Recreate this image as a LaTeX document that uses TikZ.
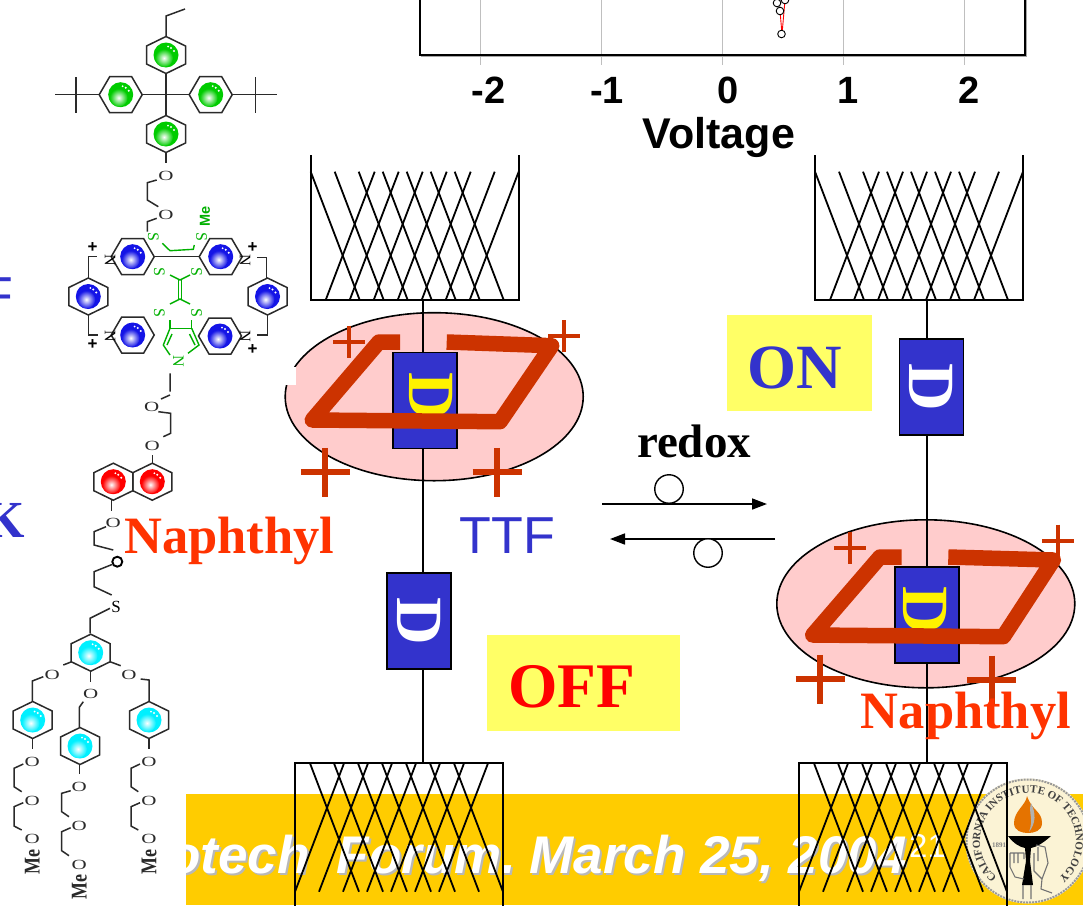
\documentclass[tikz,border=0pt]{standalone}
\usepackage{fontspec}
\setmainfont{Liberation Serif}
\newfontfamily\arialf{Liberation Sans}
\usetikzlibrary{arrows.meta,decorations.text,calc,shapes.geometric}
\definecolor{dblue}{HTML}{3333CC}
\definecolor{brick}{HTML}{CC3300}
\definecolor{pinkfill}{HTML}{FFCCCC}
\definecolor{barcol}{HTML}{FFCC00}
\definecolor{noteyel}{HTML}{FFFF66}
\definecolor{naphcol}{HTML}{FF3300}
\definecolor{molgreen}{HTML}{00B000}
\definecolor{ballblue}{HTML}{1414E6}
\definecolor{ballgreen}{HTML}{00CC00}
\definecolor{ballred}{HTML}{FF0000}
\definecolor{ballcyan}{HTML}{00F0FF}
\definecolor{sealcream}{HTML}{FBF3D5}
\definecolor{molblack}{HTML}{2A2A2A}
\newcommand{\szfont}[1]{\fontsize{#1}{#1}\selectfont}
\newcommand{\sealfont}{\fontsize{11}{11}\selectfont\bfseries}
\newcounter{atomc}
% molecule helpers
\newcommand{\mball}[3]{%
  \fill[#3] (#1,#2) circle (12.5);
  \shade[inner color=white,outer color=#3] (#1-2,#2+3) circle (9);
  \fill[white] (#1+5,#2-7) circle (1.1) (#1+8,#2-4) circle (1.1) (#1+2,#2-8.5) circle (1);
}
\newcommand{\ringP}[3]{%
  \draw[bond] (#1,#2-18.5) -- (#1+19.5,#2-9) -- (#1+19.5,#2+9) -- (#1,#2+18.5) -- (#1-19.5,#2+9) -- (#1-19.5,#2-9) -- cycle;
  \mball{#1}{#2}{#3}
}
\newcommand{\ringF}[3]{%
  \draw[bond] (#1-21.5,#2) -- (#1-11,#2-18) -- (#1+11,#2-18) -- (#1+21.5,#2) -- (#1+11,#2+18) -- (#1-11,#2+18) -- cycle;
  \mball{#1}{#2}{#3}
}
\newcommand{\Ox}[2]{\stepcounter{atomc}\node[oxatom] (atom\theatomc) at (#1,#2) {O};}
\newcommand{\Sy}[3][black]{\stepcounter{atomc}\node[atomtxt,text=#1,rotate=-90] (atom\theatomc) at (#2,#3) {S};}
\newcommand{\Ni}[3][black]{\stepcounter{atomc}\node[atomtxt,text=#1,rotate=-90] (atom\theatomc) at (#2,#3) {N};}
\newcommand{\Pl}[2]{\stepcounter{atomc}\node[plusatom] (atom\theatomc) at (#1,#2) {+};}
\newcommand{\MeL}[2]{\stepcounter{atomc}\node[meatom] (atom\theatomc) at (#1,#2) {Me};}
% device helpers
\newcommand{\plusmark}[4]{\draw[brick,line width=#4] (#1-#3,#2) -- (#1+#3,#2) (#1,#2-#3) -- (#1,#2+#3);}
\newcommand{\electrode}[4]{% left x, closed-edge y, wire-end y, side-end y
  \draw[wireline] (#1,#4) -- (#1,#2) -- (#1+208,#2) -- (#1+208,#4);
  \foreach \i in {0,...,6} {
    \draw[wireline] (#1+\i*24,#3) -- (#1+\i*24+49,#2);
    \draw[wireline] (#1+208-\i*24,#3) -- (#1+208-\i*24-49,#2);
  }
}
\tikzset{
  bond/.style={draw=molblack,line width=1.5pt},
  gbond/.style={draw=molgreen,line width=1.4pt},
  atomtxt/.style={inner sep=0pt,font=\szfont{16}},
  oxatom/.style={inner sep=0pt,font=\szfont{14},xscale=1.5,text=molblack},
  plusatom/.style={inner sep=0pt,font=\arialf\bfseries\szfont{17},text=black},
  meatom/.style={inner sep=0pt,font=\szfont{18}\bfseries,rotate=90,yscale=1.25,text=molblack},
  wireline/.style={draw=black,line width=1.8pt},
  dbox/.style={draw=black,line width=1.6pt,fill=dblue,minimum width=64pt,minimum height=96pt,inner sep=0pt},
  dletter/.style={inner sep=0pt,font=\szfont{66}\bfseries,rotate=-90},
  notebox/.style={fill=noteyel,inner sep=0pt},
  cellipse/.style={ellipse,draw=black,line width=1.6pt,fill=pinkfill,inner sep=0pt,minimum width=298pt,minimum height=168pt},
  parallel/.style={draw=brick,line width=15.5pt,line join=round},
  naphlabel/.style={inner sep=0pt,anchor=base,text=naphcol,font=\szfont{52.5}\bfseries},
  rxarrow/.style={draw=black,line width=1.6pt,-{Triangle[length=15pt,width=11pt]}},
  rxcircle/.style={draw=black,line width=1.4pt,fill=white,circle,inner sep=0pt,minimum size=28.5pt},
  ticklabel/.style={inner sep=0pt,anchor=base,font=\arialf\bfseries\szfont{38}},
  gridl/.style={draw=black!25,line width=0.9pt},
  datapt/.style={draw=black,fill=white,line width=0.9pt},
  footfont/.style={inner sep=0pt,anchor=base west,font=\arialf\bfseries\itshape\szfont{53}}
}
\begin{document}
\begin{tikzpicture}[x=1pt,y=-1pt]
\useasboundingbox (0,0) rectangle (1083,905);
\clip (0,0) rectangle (1083,905);
\fill[white] (0,0) rectangle (1083,905);

% footer bar
\fill[barcol] (186,794) rectangle (1083,905);
\begin{scope}
  \clip (186,794) rectangle (1083,905);
  \node[footfont,text=black!28] (footshadow) at (170,875) {otech\hspace{12.5pt} Forum.\hspace{-6.5pt} March 25, 2004};
  \node[footfont,text=white] (foot) at (168,873) {otech\hspace{12.5pt} Forum.\hspace{-6.5pt} March 25, 2004};
\end{scope}
\node[inner sep=0pt,anchor=base west,text=white,font=\arialf\szfont{33}] (pagenum) at (909,857) {21};

% Caltech seal
\begin{scope}[shift={(1028,841)},y=1pt]
  \fill[sealcream] (0,0) circle (62.5);
  \draw[black!40,line width=2pt,densely dotted] (0,0) circle (61.5);
  \path[decorate,decoration={text along path,text align=center,text color=black!75,
    text={|\sealfont|CALIFORNIA INSTITUTE OF TECHNOLOGY}}]
    (240:48) arc (240:-60:48);
  % flame
  \fill[orange!90!black] (-1,45) .. controls (-2,36) and (-14,30) .. (-14,18)
     .. controls (-14,10) and (-6,8) .. (0,8) .. controls (6,8) and (14,10) .. (14,18)
     .. controls (14,30) and (4,30) .. (-1,45) -- cycle;
  \fill[black!30] (3,38) .. controls (0,28) and (6,22) .. (1,9) .. controls (8,18) and (8,28) .. (3,38) -- cycle;
  % bowl and stem
  \fill[black] (-20,5) -- (23,5) .. controls (14,-3) and (8,-6) .. (3,-7) -- (-3,-7) .. controls (-8,-6) and (-14,-3) .. (-20,5) -- cycle;
  \fill[black] (-3,-7) -- (3,-7) -- (2,-20) -- (5,-44) -- (-6,-44) -- (-2,-20) -- cycle;
  % hands
  \draw[black!55,line width=1.1pt,line join=round]
     (-18,-12) -- (-18,-26) -- (-13,-36) -- (-4,-38)
     (-18,-12) -- (-4,-12) -- (-4,-18)
     (-14,-12) -- (-14,-22) (-10,-12) -- (-10,-22)
     (-5,-44) -- (-5,-58) (3,-44) -- (3,-58)
     (8,-4) -- (17,-6) -- (20,-22) -- (14,-38) -- (13,-48) -- (24,-52)
     (6,-12) -- (6,-30) -- (14,-38)
     (10,-6) -- (10,-20);
  \node[inner sep=0pt,text=black!50,font=\szfont{7}\bfseries] (sealyear) at (-29,-4) {1891};
\end{scope}

% chart
\draw[gridl] (480,-2) -- (480,65) (601,-2) -- (601,65) (722,-2) -- (722,65) (843,-2) -- (843,65) (964,-2) -- (964,65);
\draw[black!35,line width=1pt] (421,56) -- (1026,56) -- (1026,-5);
\draw[black,line width=1.1pt] (420,-5) -- (420,55) -- (1025,55) -- (1025,-5);
\draw[red,line width=0.9pt] (782,34) -- (780,11) (782,34) -- (785,0);
\draw[datapt] (777,3) circle (3.8) (785,0) circle (3.8) (780,11) circle (3.8) (781.5,34) circle (3.8);
\node[ticklabel] (tm2) at (488.5,103) {-2};
\node[ticklabel] (tm1) at (607,103) {-1};
\node[ticklabel] (t0) at (728,103) {0};
\node[ticklabel] (t1) at (848,103) {1};
\node[ticklabel] (t2) at (969.5,103) {2};
\node[inner sep=0pt,anchor=base,font=\arialf\bfseries\szfont{43}] (voltage) at (719,148) {Voltage};

% clipped side labels
\node[inner sep=0pt,anchor=base east,text=dblue,font=\arialf\szfont{52}] (lblF) at (13,313) {F};
\node[inner sep=0pt,anchor=base east,text=dblue,font=\szfont{52}\bfseries] (lblK) at (25,537) {K};

% ---- left device ----
\node[cellipse] (ellL) at (434.2,396.7) {};
\fill[white] (280,367) rectangle (296,385);
\electrode{310.7}{300}{171.7}{155}
\electrode{295}{763.3}{891.7}{910}
\coordinate (wireLtop) at (422.7,300);
\coordinate (wireLbot) at (422.7,763.3);
\draw[wireline] (wireLtop) -- (wireLbot);
\node[dbox] (dL1) at (425.2,400.3) {};
\node[dletter,text=yellow] (dL1t) at (430.7,396) {D};
\draw[parallel] (400,342) -- (379,342) -- (312.3,420) -- (500,421.7) -- (551.7,345.7) -- (446.7,342);
\node[dbox] (dL2) at (419,621) {};
\node[dletter,text=white] (dL2t) at (419,621) {D};
\plusmark{349}{341.7}{16}{4pt}
\plusmark{564.3}{336}{16}{4pt}
\plusmark{325.3}{472.3}{24.5}{6pt}
\plusmark{497}{472.3}{24.5}{6pt}
\node[inner sep=0pt,anchor=base,text=dblue,font=\arialf\szfont{52}] (ttf) at (507.5,553) {TTF};
\node[notebox,minimum width=193pt,minimum height=96pt] (offbox) at (583.5,683) {};
\node[inner sep=0pt,anchor=base,text=red,font=\szfont{63.5}\bfseries] (offtxt) at (571.5,707) {OFF};

% ---- right device ----
\node[cellipse] (ellR) at (925.8,603.8) {};
\electrode{815}{300}{171.7}{155}
\electrode{799}{763.3}{891.7}{910}
\coordinate (wireRtop) at (926.7,300);
\coordinate (wireRbot) at (926.7,763.3);
\draw[wireline] (wireRtop) -- (wireRbot);
\node[dbox] (dR1) at (931.5,387) {};
\node[dletter,text=white] (dR1t) at (931.5,387) {D};
\node[dbox] (dR2) at (927.2,615) {};
\node[dletter,text=yellow] (dR2t) at (925,610) {D};
\draw[parallel] (901.7,557) -- (880,557) -- (812.7,635) -- (1003.3,636.7) -- (1053.3,560) -- (948.3,557);
\plusmark{850}{548.3}{16}{4pt}
\plusmark{1058.3}{540.7}{16}{4pt}
\plusmark{820}{679.3}{24.5}{6pt}
\plusmark{991.7}{680}{24.5}{6pt}
\node[notebox,minimum width=145pt,minimum height=96pt] (onbox) at (799.5,363) {};
\node[inner sep=0pt,anchor=base,text=dblue,font=\szfont{63}\bfseries] (ontxt) at (795,388) {ON};

% labels and redox arrows
\node[naphlabel] (naphL) at (229.5,553.3) {Naphthyl};
\node[naphlabel] (naphR) at (966,728.3) {Naphthyl};
\node[inner sep=0pt,anchor=base,font=\szfont{47}\bfseries] (redox) at (694,457) {redox};
\coordinate (arrAs) at (602,504);
\coordinate (arrAe) at (767,504);
\coordinate (arrBs) at (775,539);
\coordinate (arrBe) at (610,539);
\draw[rxarrow] (arrAs) -- (arrAe);
\draw[rxarrow] (arrBs) -- (arrBe);
\node[rxcircle] (circA) at (669,489) {};
\node[rxcircle] (circB) at (708,553) {};

% ---- molecule ----
\ringP{166}{55}{ballgreen}
\ringF{120.7}{94.7}{ballgreen}
\ringF{210.7}{94.7}{ballgreen}
\ringP{166}{134}{ballgreen}
\draw[bond] (166,37) -- (166,16) -- (185,9);
\draw[bond] (166,74) -- (166,115);
\draw[bond] (142.7,94.7) -- (189.3,94.7);
\draw[bond] (55,94.7) -- (99,94.7) (76,77) -- (76,113);
\draw[bond] (232,94.7) -- (276.7,94.7) (255.7,77) -- (255.7,113);
\draw[bond] (166,152) -- (166,163);
\Ox{166}{175.7}
\draw[bond] (156.7,180) -- (147.3,182.7) -- (147.3,200) -- (158.3,206.7);
\Ox{166}{215}
\draw[bond] (156.7,218.3) -- (147.3,221.7) -- (147.3,231.7);
% cyclophane
\ringF{132.7}{256.7}{ballblue}
\ringF{220.7}{256.7}{ballblue}
\ringF{132.7}{335}{ballblue}
\ringF{220}{336}{ballblue}
\ringP{88.3}{296.5}{ballblue}
\ringP{267.5}{296.5}{ballblue}
\draw[bond] (154,256.7) -- (199,256.7);
\draw[bond] (88.3,278) -- (88.3,256.7) -- (96.7,256.7);
\draw[bond] (266.7,278) -- (266.7,257.3) -- (256.7,257.3);
\draw[bond] (88.3,315) -- (88.3,335) -- (98.3,335);
\draw[bond] (267.7,315) -- (267.7,335) -- (256.7,335);
\Pl{92.7}{248} \Pl{252.7}{248} \Pl{92.7}{345} \Pl{252.7}{349.3}
\Ni{110}{260} \Ni{245}{260} \Ni{110}{336.7} \Ni{245}{336.7}
% green thread
\draw[gbond] (162.3,243.3) -- (170,250.7) -- (193.3,249.3) -- (194.3,245);
\draw[gbond] (170,275) -- (180,280) -- (190,275);
\draw[gbond] (178.3,280) -- (178.3,299) (181.7,280) -- (181.7,299);
\draw[gbond] (170,304) -- (180,299) -- (190,304);
\draw[gbond] (170,320) -- (170,328.3) -- (191.7,328.3) -- (191.7,320);
\draw[gbond] (170,328.3) -- (163.3,345) -- (170,355);
\draw[gbond] (191.7,328.3) -- (199,345) -- (188,353.3);
\draw[gbond] (172,334) -- (167,345) (189.5,334) -- (195,345);
\Sy[molgreen]{153.3}{237.3} \Sy[molgreen]{201.7}{237.3}
\Sy[molgreen]{159.3}{271.7} \Sy[molgreen]{196.7}{271.7}
\Sy[molgreen]{159.3}{313.3} \Sy[molgreen]{196.7}{313.3}
\Ni[molgreen]{178.3}{361.7}
\node[inner sep=0pt,rotate=90,text=molgreen,font=\arialf\bfseries\szfont{14.5}] (greenMe) at (205,216.7) {Me};
% lower chain
\draw[bond] (170,373.3) -- (170,391.7) (170,395) -- (161,399);
\Ox{151.7}{407.3}
\draw[bond] (158.3,411.7) -- (170.7,413.3) -- (170.7,433.3) -- (163.3,436.7);
\Ox{152.3}{445.7}
\draw[bond] (152.3,455) -- (152.3,463.3);
\ringP{113.3}{481.7}{ballred}
\ringP{152.3}{481.7}{ballred}
\draw[bond] (111.7,500) -- (111.7,510.7);
\Ox{113.3}{523.3}
\draw[bond] (106,526.7) -- (94,531.7) -- (94,545) -- (113.3,550);
\draw[black,line width=1.9pt] (117.3,561.7) circle (5);
\draw[bond] (112,564.5) -- (94,571.7) -- (94,586.7) -- (111.7,595);
\node[inner sep=0pt,font=\szfont{17}] (sulfur) at (116,606.7) {S};
\draw[bond] (110,608.3) -- (90,618.3) -- (90,633.3);
% dendron
\ringP{90.7}{652.7}{ballcyan}
\ringP{32.7}{720}{ballcyan}
\ringP{80}{746}{ballcyan}
\ringP{149}{720}{ballcyan}
\draw[bond] (71.7,661.7) -- (63.3,665);
\Ox{52.3}{675}
\draw[bond] (43.3,676.7) -- (32.3,681) -- (32.3,701);
\draw[bond] (32.3,739.3) -- (32.3,749);
\Ox{32.3}{762.3}
\draw[bond] (23.3,764) -- (14,768.3) -- (14,786.7) -- (21.7,791.7);
\Ox{32.3}{800.7}
\draw[bond] (23.3,802.7) -- (14,806.7) -- (14,826) -- (21.7,830);
\Ox{32.3}{839.3}
\MeL{32.3}{861.7}
\draw[bond] (90.7,671) -- (90.7,681.7);
\Ox{90.7}{694.3}
\draw[bond] (83.3,701.7) -- (79.3,707.3) -- (79.3,727.3);
\draw[bond] (79.3,765) -- (79.3,774);
\Ox{79.3}{787.3}
\draw[bond] (70.7,790.7) -- (61.7,793.3) -- (61.7,811.7) -- (69,816.7);
\Ox{79.3}{826}
\draw[bond] (70.7,827.7) -- (61.7,831.7) -- (61.7,850.7) -- (69,855.7);
\Ox{79.3}{865}
\MeL{79.3}{886.7}
\draw[bond] (110,661.7) -- (120.7,665.7);
\Ox{129}{675}
\draw[bond] (140.7,679) -- (149,680) -- (149,701);
\draw[bond] (149,739.3) -- (149,749);
\Ox{149}{762.3}
\draw[bond] (140,764) -- (131,768.3) -- (131,786.7) -- (138.3,791.7);
\Ox{149}{800.7}
\draw[bond] (140,802.7) -- (131,806.7) -- (131,826) -- (138.3,830);
\Ox{149}{839.3}
\MeL{149}{861.7}
\end{tikzpicture}
\end{document}
